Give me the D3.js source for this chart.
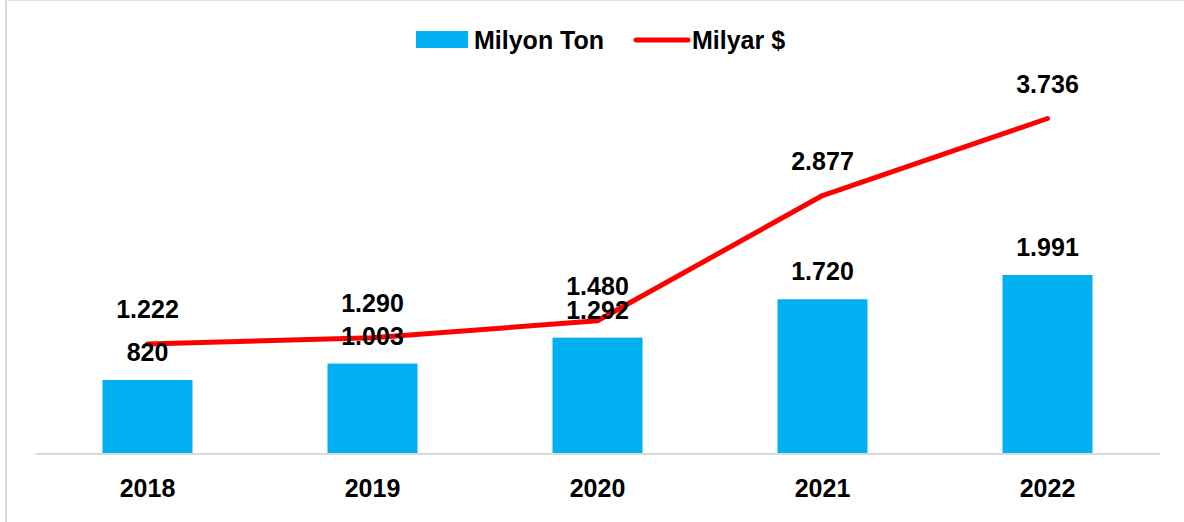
<!DOCTYPE html>
<html>
<head>
<meta charset="utf-8">
<script src="https://d3js.org/d3.v7.min.js"></script>
<style>
  body { margin: 0; background: #fff; }
  text { font-family: "Liberation Sans", Arial, sans-serif; font-weight: bold; fill: #000; }
</style>
</head>
<body>
<div id="chart-area"></div>
<script>
// data
var years = ["2018", "2019", "2020", "2021", "2022"];
var tonValues = [820, 1003, 1292, 1720, 1991];      // Milyon Ton (bars)
var dollarValues = [1222, 1290, 1480, 2877, 3736];  // Milyar $ (line)
var seriesNames = ["Milyon Ton", "Milyar $"];

var width = 1184, height = 522;
var fmt = function(v){ return d3.format(",")(v).replace(/,/g, "."); };

var svg = d3.select("#chart-area")
  .append("svg")
    .attr("width", width)
    .attr("height", height);

// outer frame (left and top edges visible in the reference)
svg.append("line").attr("x1", 6).attr("x2", 6).attr("y1", 0).attr("y2", height)
  .attr("stroke", "#d9d9d9").attr("stroke-width", 2);
svg.append("line").attr("x1", 6).attr("x2", width).attr("y1", 0.5).attr("y2", 0.5)
  .attr("stroke", "#e3e3e3").attr("stroke-width", 1);

var x = d3.scaleBand()
  .domain(years)
  .range([35, 1160])
  .paddingInner(0.6)
  .paddingOuter(0.3);

var y = d3.scaleLinear()
  .domain([0, 4500])
  .range([453.5, 50]);

// bars
svg.selectAll("rect.bar")
  .data(tonValues)
  .enter().append("rect")
    .attr("class", "bar")
    .attr("x", function(d, i){ return x(years[i]); })
    .attr("y", function(d){ return y(d); })
    .attr("width", x.bandwidth())
    .attr("height", function(d){ return y(0) - y(d); })
    .attr("fill", "#00b0f0");

// x axis baseline
var xAxis = d3.axisBottom(x).tickSize(0).tickPadding(26);
var xAxisGroup = svg.append("g")
  .attr("transform", "translate(0," + y(0) + ")")
  .call(xAxis);
xAxisGroup.select(".domain").attr("stroke", "#d9d9d9").attr("stroke-width", 2);
xAxisGroup.selectAll(".tick text")
  .attr("font-size", "25px")
  .attr("font-family", "Liberation Sans, Arial, sans-serif")
  .attr("font-weight", "bold")
  .attr("fill", "#000");

// line
var line = d3.line()
  .x(function(d, i){ return x(years[i]) + x.bandwidth() / 2; })
  .y(function(d){ return y(d); });

svg.append("path")
  .datum(dollarValues)
  .attr("d", line)
  .attr("fill", "none")
  .attr("stroke", "#ff0000")
  .attr("stroke-width", 5)
  .attr("stroke-linecap", "round")
  .attr("stroke-linejoin", "round");

// value labels
svg.selectAll("text.barLabel")
  .data(tonValues)
  .enter().append("text")
    .attr("class", "barLabel")
    .attr("x", function(d, i){ return x(years[i]) + x.bandwidth() / 2; })
    .attr("y", function(d){ return y(d) - 19; })
    .attr("text-anchor", "middle")
    .attr("font-size", "25px")
    .text(fmt);

svg.selectAll("text.lineLabel")
  .data(dollarValues)
  .enter().append("text")
    .attr("class", "lineLabel")
    .attr("x", function(d, i){ return x(years[i]) + x.bandwidth() / 2; })
    .attr("y", function(d){ return y(d) - 26; })
    .attr("text-anchor", "middle")
    .attr("font-size", "25px")
    .text(fmt);

// legend
var legend = svg.append("g");
legend.append("rect")
  .attr("x", 416).attr("y", 31).attr("width", 52).attr("height", 17)
  .attr("fill", "#00b0f0");
legend.append("text")
  .attr("x", 474).attr("y", 48.5)
  .attr("font-size", "25px")
  .text(seriesNames[0]);
legend.append("line")
  .attr("x1", 636).attr("x2", 688).attr("y1", 40).attr("y2", 40)
  .attr("stroke", "#ff0000").attr("stroke-width", 5).attr("stroke-linecap", "round");
legend.append("text")
  .attr("x", 692).attr("y", 48.5)
  .attr("font-size", "25px")
  .text(seriesNames[1]);
</script>
</body>
</html>
